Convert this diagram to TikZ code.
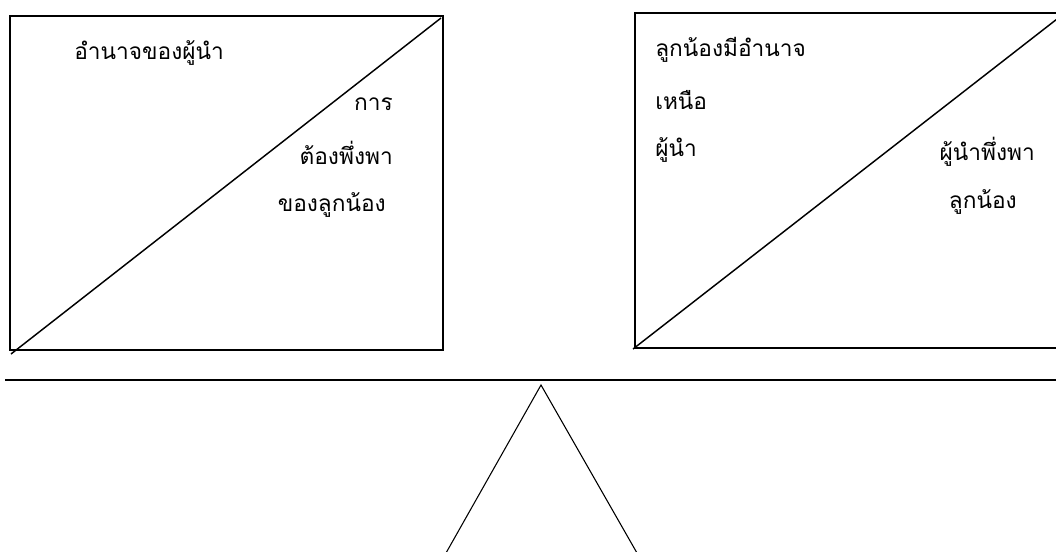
\documentclass[tikz,border=0pt]{standalone}
\usepackage{fontspec}
\newfontfamily\thaifont[Script=Thai]{Loma}
\usetikzlibrary{positioning}

\begin{document}
\begin{tikzpicture}[x=0.75pt, y=-0.75pt,
    box/.style={draw, line width=1.1pt},
    beam/.style={draw, line width=1.5pt},
    lbl/.style={anchor=west, inner sep=0pt, font=\thaifont\fontsize{17}{20}\selectfont}]
  \clip (0,0) rectangle (1056,551);
  \fill[white] (0,0) rectangle (1056,551);
  % left pan
  \draw[box] (10,16) rectangle (443,350);
  \draw[box] (11,354) -- (441,18);
  \node (lpower) [lbl] at (74,53) {อำนาจของผู้นำ};
  \node (ldep1)  [lbl, anchor=east] at (393,104) {การ};
  \node (ldep2)  [lbl, anchor=east] at (393,153) {ต้องพึ่งพา};
  \node (ldep3)  [lbl, anchor=east] at (386,205) {ของลูกน้อง};
  % right pan
  \draw[box] (635,13) rectangle (1068,348);
  \draw[box] (633,349) -- (1066,12);
  \node (rpower1) [lbl] at (655,50) {ลูกน้องมีอำนาจ};
  \node (rpower2) [lbl] at (655,100) {เหนือ};
  \node (rpower3) [lbl] at (655,150) {ผู้นำ};
  \node (rdep1) [lbl, anchor=east] at (1035,152) {ผู้นำพึ่งพา};
  \node (rdep2) [lbl, anchor=east] at (1017,202) {ลูกน้อง};
  % beam and fulcrum
  \draw[beam] (5,380) -- (1060,380);
  \draw[line width=0.8pt] (446,553) -- (541,385) -- (637,553);
\end{tikzpicture}
\end{document}
